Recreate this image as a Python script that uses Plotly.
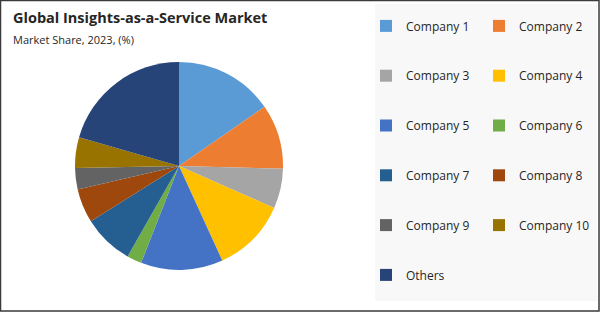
import plotly.graph_objects as go

labels = ["Company 1", "Company 2", "Company 3", "Company 4", "Company 5",
          "Company 6", "Company 7", "Company 8", "Company 9", "Company 10", "Others"]
shares = [15.4, 10.1, 6.2, 11.6, 12.8, 2.3, 7.9, 5.3, 3.3, 4.8, 20.6]
colors = ["#5B9BD5", "#ED7D31", "#A5A5A5", "#FFC000", "#4472C4", "#70AD47",
          "#255E91", "#9E480E", "#636363", "#997300", "#264478"]

title = "Global Insights-as-a-Service Market"
subtitle = "Market Share, 2023, (%)"

W, H = 600, 312
ML, MR = 0, 234
PW = W - ML - MR

def px_x(p):
    return (p - ML) / PW

def px_y(p):
    return (H - p) / H

cx, cy, r = 179, 166, 104

fig = go.Figure(go.Pie(
    labels=["<br>" + l + "<br>" for l in labels],
    values=shares,
    marker=dict(colors=colors, line=dict(width=0)),
    sort=False,
    direction="clockwise",
    rotation=0,
    textinfo="none",
    hoverinfo="label+percent",
    domain=dict(x=[px_x(cx - r), px_x(cx + r)], y=[px_y(cy + r), px_y(cy - r)]),
))

fig.update_layout(
    width=W, height=H,
    margin=dict(l=ML, r=MR, t=0, b=0, autoexpand=False),
    paper_bgcolor="white",
    plot_bgcolor="white",
    font=dict(family="Open Sans", color="#262626"),
    showlegend=True,
    legend=dict(
        orientation="h",
        x=1, xanchor="left",
        y=px_y(-4), yanchor="top",
        maxheight=1,
        entrywidth=68, entrywidthmode="pixels",
        font=dict(size=12, color="#262626"),
        bgcolor="rgba(0,0,0,0)",
        valign="middle",
        traceorder="normal",
    ),
    shapes=[
        dict(type="rect", xref="paper", yref="paper", layer="below",
             x0=px_x(375), x1=px_x(597), y0=px_y(301), y1=px_y(4),
             fillcolor="#F8F8F8", line=dict(width=0)),
        dict(type="rect", xref="paper", yref="paper", layer="above",
             x0=px_x(0.5), x1=px_x(599), y0=px_y(311), y1=px_y(0.5),
             fillcolor="rgba(0,0,0,0)", line=dict(color="#3A3A3A", width=1.5)),
    ],
    annotations=[
        dict(text="<b>" + title + "</b>", xref="paper", yref="paper",
             x=px_x(11), y=px_y(6), xanchor="left", yanchor="top",
             showarrow=False, font=dict(size=14.5, color="#262626")),
        dict(text=subtitle, xref="paper", yref="paper",
             x=px_x(11), y=px_y(30), xanchor="left", yanchor="top",
             showarrow=False, font=dict(size=11, color="#262626")),
    ],
)

fig.write_html("out.html")
